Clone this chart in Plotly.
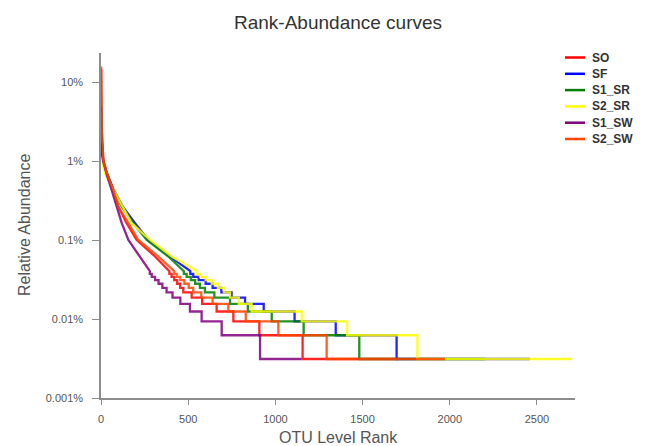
import plotly.graph_objects as go

# Rarefied read depth used to turn OTU counts into relative abundance
depth = 32000

samples = ["SO", "SF", "S1_SR", "S2_SR", "S1_SW", "S2_SW"]
colors = ["#ff0000", "#0000ff", "#008000", "#ffff00", "#800080", "#ff4500"]

# Upper part of each curve: (rank, relative abundance in %)
so_rank = [1, 2, 4, 13, 33, 71, 99, 147, 205, 310, 392]
so_pct = [15.0, 5.0, 2.5, 1.05, 0.71, 0.436, 0.268, 0.165, 0.101, 0.0623, 0.0406]

sf_rank = [1, 3, 13, 33, 71, 125, 195, 271, 396, 512]
sf_pct = [5.0, 2.0, 1.0, 0.71, 0.44, 0.268, 0.165, 0.101, 0.0623, 0.0406]

s1sr_rank = [1, 3, 13, 33, 71, 119, 185, 262, 386, 475]
s1sr_pct = [4.0, 1.8, 1.0, 0.71, 0.44, 0.268, 0.165, 0.101, 0.0623, 0.0406]

s2sr_rank = [1, 5, 13, 29, 71, 128, 176, 281, 405, 550]
s2sr_pct = [1.1, 1.0, 0.86, 0.65, 0.44, 0.268, 0.165, 0.101, 0.0623, 0.0406]

s1sw_rank = [1, 5, 13, 33, 61, 90, 119, 157, 224, 280]
s1sw_pct = [1.8, 1.3, 1.0, 0.68, 0.436, 0.268, 0.165, 0.101, 0.0623, 0.0406]

s2sw_rank = [1, 2, 4, 13, 33, 71, 99, 157, 214, 329, 420]
s2sw_pct = [16.0, 6.0, 2.8, 1.05, 0.72, 0.436, 0.268, 0.165, 0.101, 0.0623, 0.0406]

# Tail: last rank holding 1, 2, ... 12 reads
so_tail = [1700, 1156, 908, 759, 663, 580, 520, 472, 454, 437, 420, 405]
sf_tail = [2460, 1695, 1346, 1110, 933, 826, 749, 690, 640, 600, 560, 529]
s1sr_tail = [2202, 1481, 1162, 979, 842, 740, 650, 596, 567, 540, 515, 491]
s2sr_tail = [2699, 1814, 1411, 1151, 864, 790, 740, 705, 670, 635, 600, 568]
s1sw_tail = [1150, 912, 692, 577, 510, 455, 410, 376, 352, 330, 310, 291]
s2sw_tail = [1972, 1294, 1017, 830, 730, 640, 575, 529, 503, 478, 455, 434]

heads = [(so_rank, so_pct), (sf_rank, sf_pct), (s1sr_rank, s1sr_pct),
         (s2sr_rank, s2sr_pct), (s1sw_rank, s1sw_pct), (s2sw_rank, s2sw_pct)]
tails = [so_tail, sf_tail, s1sr_tail, s2sr_tail, s1sw_tail, s2sw_tail]

x_ticks = [0, 500, 1000, 1500, 2000, 2500]
y_ticks = [1e-5, 1e-4, 1e-3, 1e-2, 1e-1]
y_ticktext = ["0.001%", "0.01%", "0.1%", "1%", "10%"]


def build_curve(ranks, pcts, tail):
    xs = list(ranks)
    ys = [p / 100 for p in pcts]
    start = ranks[-1]
    for level in range(len(tail), 0, -1):
        end = tail[level - 1]
        xs += [start, end]
        ys += [level / depth, level / depth]
        start = end
    return xs, ys


fig = go.Figure()
for name, color, (r, p), t in zip(samples, colors, heads, tails):
    xs, ys = build_curve(r, p, t)
    fig.add_trace(go.Scatter(x=xs, y=ys, mode="lines", name=name,
                             line=dict(color=color, width=2.3),
                             opacity=0.85, showlegend=False,
                             hoverinfo="skip"))

# Page geometry (pixels) used to place the legend and axis titles
L, R, T, B = 101, 72, 53, 48
W, H = 647, 446
pw, ph = W - L - R, H - T - B


def px_x(px):
    return (px - L) / pw


def px_y(py):
    return (H - B - py) / ph


# Legend drawn as short line samples with bold labels
row0, row_gap = 57.5, 16.3
for i, (name, color) in enumerate(zip(samples, colors)):
    yp = px_y(row0 + i * row_gap)
    fig.add_shape(type="line", xref="paper", yref="paper",
                  x0=px_x(565), x1=px_x(585), y0=yp, y1=yp,
                  line=dict(color=color, width=2.5))
    fig.add_annotation(xref="paper", yref="paper", x=px_x(590), y=yp,
                       text="<b>%s</b>" % name, showarrow=False,
                       xanchor="left", yanchor="middle",
                       font=dict(size=12, color="#333333"))

# Axis titles
fig.add_annotation(xref="paper", yref="paper", x=px_x(338), y=px_y(437),
                   text="OTU Level Rank", showarrow=False,
                   xanchor="center", yanchor="middle",
                   font=dict(size=16, color="#555555"))
fig.add_annotation(xref="paper", yref="paper", x=px_x(24), y=px_y(225),
                   text="Relative Abundance", showarrow=False, textangle=-90,
                   xanchor="center", yanchor="middle",
                   font=dict(size=16, color="#555555"))

fig.update_layout(
    width=W, height=H,
    margin=dict(l=L, r=R, t=T, b=B, autoexpand=False),
    paper_bgcolor="white", plot_bgcolor="white",
    font=dict(family="Liberation Sans, Arial, sans-serif", color="#555555"),
    title=dict(text="Rank-Abundance curves", x=0.5225, xanchor="center",
               y=0.951, yanchor="middle", automargin=False,
               font=dict(size=19, color="#333333")),
    xaxis=dict(range=[0, 2718], tickvals=x_ticks, showgrid=False,
               zeroline=False, showline=True, linecolor="#8c8c8c",
               linewidth=1.5, ticks="outside", ticklen=5, tickcolor="#8c8c8c",
               ticklabelstandoff=5, automargin=False,
               tickfont=dict(size=11, color="#555555")),
    yaxis=dict(type="log", range=[-5, -0.624], tickvals=y_ticks,
               ticktext=y_ticktext, showgrid=False, zeroline=False,
               showline=True, linecolor="#8c8c8c", linewidth=1.5,
               ticks="outside", ticklen=7, tickcolor="#8c8c8c",
               ticklabelstandoff=7, automargin=False,
               tickfont=dict(size=11, color="#555555")),
)

fig.write_html("out.html")
